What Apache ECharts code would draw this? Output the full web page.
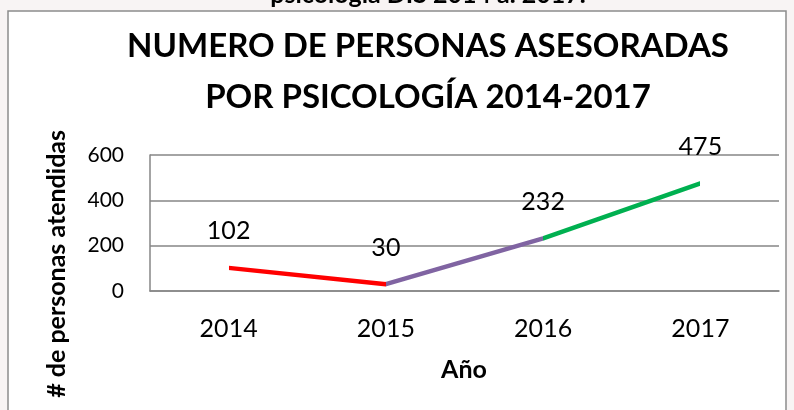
<!DOCTYPE html>
<html>
<head>
<meta charset="utf-8">
<script src="https://cdn.jsdelivr.net/npm/echarts@6/dist/echarts.min.js"></script>
<style>
  html, body { margin: 0; padding: 0; background: #f8f4f4; }
  #chart { width: 794px; height: 410px; }
</style>
</head>
<body>
<div id="chart"></div>
<script>
// data
const years = ['2014', '2015', '2016', '2017'];
const personas = [102, 30, 232, 475];
const yTicks = [0, 200, 400, 600];
const segColors = ['#ff0000', '#8064a2', '#00b050'];

const chart = echarts.init(document.getElementById('chart'));
const font = 'Lato, "Open Sans", sans-serif';

const option = {
  animation: false,
  backgroundColor: 'transparent',
  grid: { left: 150, right: 15, top: 155, bottom: 119 },
  xAxis: {
    type: 'category',
    data: years,
    boundaryGap: true,
    axisLine: { show: true, lineStyle: { color: '#868686', width: 1.5 } },
    axisTick: { show: false },
    axisLabel: { color: '#000', fontFamily: font, fontSize: 25, margin: 25 }
  },
  yAxis: {
    type: 'value',
    min: yTicks[0],
    max: yTicks[yTicks.length - 1],
    interval: yTicks[1] - yTicks[0],
    axisLine: { show: true, lineStyle: { color: '#868686', width: 1.5 } },
    axisTick: { show: false },
    splitLine: { lineStyle: { color: '#868686', width: 1.5 } },
    axisLabel: { color: '#000', fontFamily: font, fontSize: 21, margin: 26 }
  },
  visualMap: {
    show: false,
    type: 'piecewise',
    dimension: 0,
    pieces: [
      { gte: 0, lt: 1, color: segColors[0] },
      { gte: 1, lt: 2, color: segColors[1] },
      { gte: 2, lte: 3, color: segColors[2] }
    ]
  },
  series: [{
    type: 'line',
    data: personas,
    symbol: 'circle',
    symbolSize: 0.1,
    lineStyle: { width: 4.5, cap: 'round', join: 'round' },
    label: {
      show: true,
      position: 'top',
      distance: 24,
      color: '#000',
      fontFamily: font,
      fontSize: 25
    }
  }],
  graphic: [
    {
      type: 'rect',
      z: -10,
      shape: { x: 8, y: 11, width: 778, height: 420 },
      style: { fill: '#fff', stroke: '#8c8c8c', lineWidth: 1.5 }
    },
    {
      type: 'text',
      x: 428, y: 7,
      style: {
        text: 'psicología DIS 2014 a. 2017.',
        fill: '#000', font: 'bold 25px ' + font,
        align: 'center', verticalAlign: 'bottom'
      }
    },
    {
      type: 'text',
      x: 428, y: 46,
      style: {
        text: 'NUMERO DE PERSONAS ASESORADAS',
        fill: '#000', font: 'bold 33px ' + font,
        align: 'center', verticalAlign: 'middle'
      }
    },
    {
      type: 'text',
      x: 428, y: 97,
      style: {
        text: 'POR PSICOLOGÍA 2014-2017',
        fill: '#000', font: 'bold 33px ' + font,
        align: 'center', verticalAlign: 'middle'
      }
    },
    {
      type: 'text',
      x: 57, y: 130,
      rotation: Math.PI / 2,
      style: {
        text: '# de personas atendidas',
        fill: '#000', font: 'bold 25px ' + font,
        align: 'right', verticalAlign: 'middle'
      }
    },
    {
      type: 'text',
      x: 464, y: 370,
      style: {
        text: 'Año',
        fill: '#000', font: 'bold 25px ' + font,
        align: 'center', verticalAlign: 'middle'
      }
    }
  ]
};

chart.setOption(option);
</script>
</body>
</html>
